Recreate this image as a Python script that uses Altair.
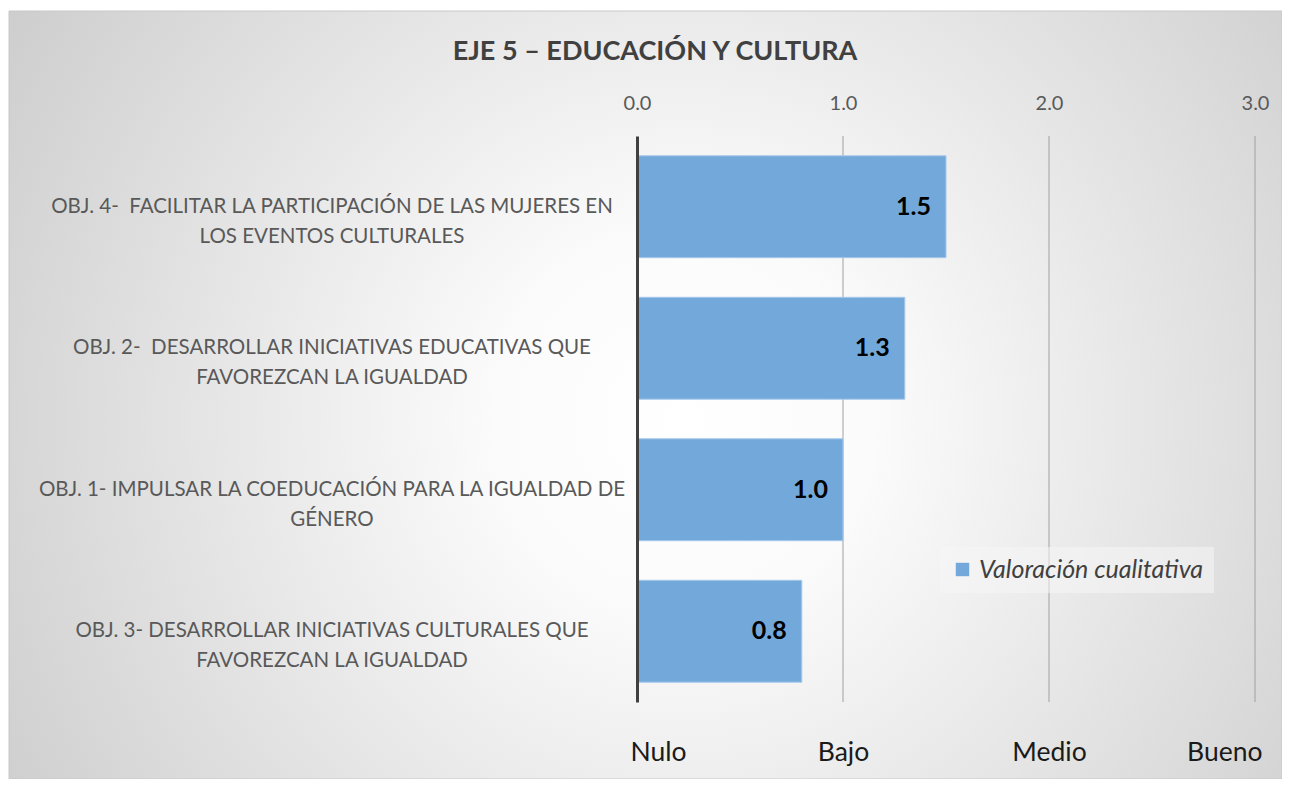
import altair as alt
import pandas as pd

categorias = [
    "OBJ. 4-\u00a0 FACILITAR LA PARTICIPACIÓN DE LAS MUJERES EN\nLOS EVENTOS CULTURALES",
    "OBJ. 2-\u00a0 DESARROLLAR INICIATIVAS EDUCATIVAS QUE\nFAVOREZCAN LA IGUALDAD",
    "OBJ. 1- IMPULSAR LA COEDUCACIÓN PARA LA IGUALDAD DE\nGÉNERO",
    "OBJ. 3- DESARROLLAR INICIATIVAS CULTURALES QUE\nFAVOREZCAN LA IGUALDAD",
]
valores = [1.5, 1.3, 1.0, 0.8]
serie = "Valoración cualitativa"
ticks = [0, 1, 2, 3]
niveles = ["Nulo", "Bajo", "Medio", "Bueno"]
titulo = "EJE 5 – EDUCACIÓN Y CULTURA"

FONT = "Lato"
W, H = 618, 566

df = pd.DataFrame({"cat": categorias, "valor": valores, "serie": [serie] * len(valores)})
df_ticks = pd.DataFrame({"tick": ticks})
df_one = pd.DataFrame({"t": [titulo]})

bg = alt.Chart(df_one).mark_rect(
    fill=alt.RadialGradient(
        gradient="radial",
        x1=0.53, y1=0.52, r1=0.0,
        x2=0.53, y2=0.52, r2=0.74,
        stops=[
            alt.GradientStop(offset=0.0, color="#ffffff"),
            alt.GradientStop(offset=0.2, color="#fbfbfb"),
            alt.GradientStop(offset=1.0, color="#c2c2c2"),
        ],
    ),
    stroke="#c8c8c8",
    strokeWidth=1,
).encode(
    x=alt.value(-628), x2=alt.value(645), y=alt.value(-125), y2=alt.value(643)
)

xscale = alt.Scale(domain=[0, 3], nice=False, zero=True)
yscale = alt.Scale(paddingInner=0.28, paddingOuter=0.14)

grid = alt.Chart(df_ticks).transform_filter("datum.tick > 0").mark_rule(
    color="#a0a0a0", strokeWidth=1
).encode(
    x=alt.X("tick:Q", scale=xscale, axis=None),
    y=alt.value(0), y2=alt.value(H),
)

bars = alt.Chart(df).mark_bar(stroke="#a6c8ea", strokeWidth=1).encode(
    x=alt.X(
        "valor:Q",
        scale=xscale,
        title=None,
        axis=alt.Axis(
            orient="top", values=ticks, format=".1f", grid=False, zindex=2,
            domain=False, ticks=False, tickSize=0, labelFlush=False,
            labelPadding=33, labelBaseline="middle", labelFont=FONT, labelFontSize=20,
            labelColor="#595959",
        ),
    ),
    y=alt.Y(
        "cat:N", sort=None, scale=yscale, title=None,
        axis=alt.Axis(labels=False, ticks=False, tickSize=0, grid=False, zindex=2,
                      domain=True, domainColor="#404040", domainWidth=3),
    ),
    color=alt.Color(
        "serie:N",
        scale=alt.Scale(range=["#73a8da"]),
        legend=alt.Legend(
            title=None, orient="none", legendX=303, legendY=411,
            symbolType="square", symbolSize=180, symbolStrokeWidth=0,
            labelFont=FONT, labelFontSize=25, labelFontStyle="italic",
            labelColor="#404040", fillColor="rgba(245,245,245,0.55)",
            padding=10, labelLimit=400,
        ),
    ),
)

bar_labels = alt.Chart(df).mark_text(
    align="right", baseline="middle", dx=-15, font=FONT, fontSize=25,
    fontWeight="bold", color="#000000",
).encode(
    x=alt.X("valor:Q", scale=xscale),
    y=alt.Y("cat:N", sort=None, scale=yscale),
    text=alt.Text("valor:Q", format=".1f"),
)

cat_labels = alt.Chart(df).mark_text(
    align="center", baseline="middle", font=FONT, fontSize=20.5,
    color="#595959", lineBreak="\n", lineHeight=30,
).encode(
    x=alt.value(-305),
    y=alt.Y("cat:N", sort=None, scale=yscale),
    text="cat:N",
)

expr = " : ".join(f"datum.value == {t} ? '{n}'" for t, n in zip(ticks, niveles)) + " : ''"
bottom = alt.Chart(df_ticks).mark_point(opacity=0).encode(
    x=alt.X(
        "tick:Q", scale=xscale, title=None,
        axis=alt.Axis(
            orient="bottom", values=ticks, labelExpr=expr, grid=False, domain=False,
            ticks=False, tickSize=0, labelPadding=50, labelBaseline="middle", zindex=2,
            labelFlush=True, labelFlushOffset=7, labelFont=FONT, labelFontSize=26.5,
            labelColor="#1a1a1a",
        ),
    ),
    y=alt.value(0),
)

title = alt.Chart(df_one).mark_text(
    align="center", baseline="middle", font=FONT, fontSize=27,
    fontWeight="bold", color="#404040",
).encode(x=alt.value(18), y=alt.value(-84), text="t:N")

chart = alt.layer(bg, grid, bars, bar_labels, cat_labels, bottom, title).resolve_axis(
    x="independent"
).properties(
    width=W, height=H,
    autosize=alt.AutoSizeParams(type="none"),
    padding={"left": 629, "top": 128, "right": 27, "bottom": 77},
).configure_view(stroke=None).configure(background="#ffffff")

chart.save("out.html", embed_options={"renderer": "svg", "actions": False})
